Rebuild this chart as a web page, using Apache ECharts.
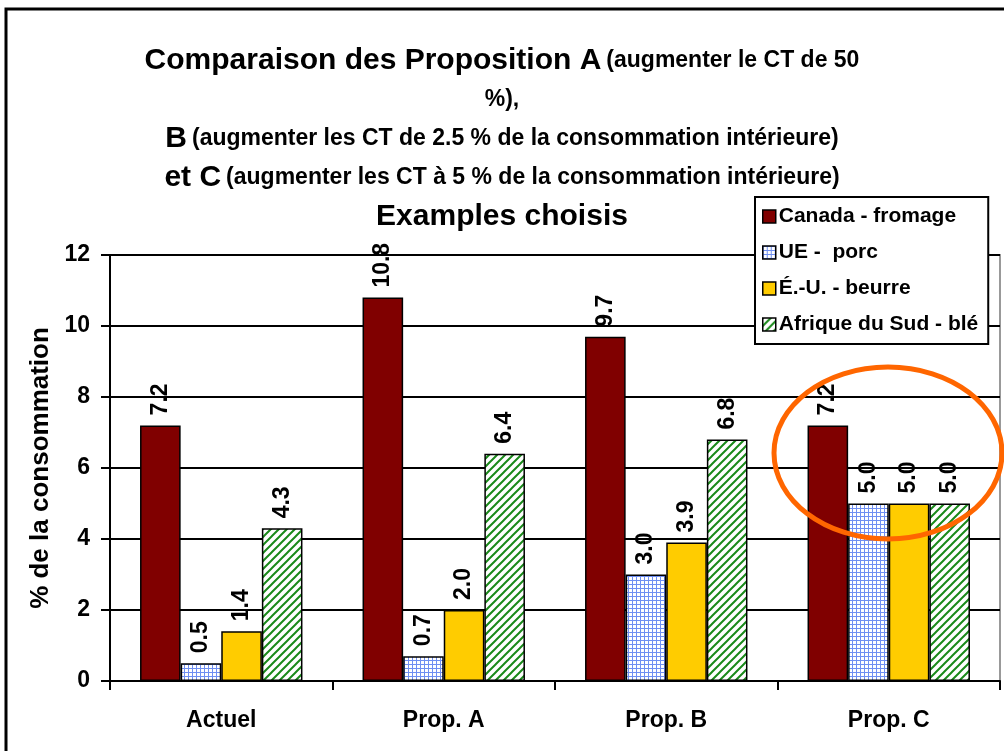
<!DOCTYPE html>
<html>
<head>
<meta charset="utf-8">
<script src="https://cdn.jsdelivr.net/npm/echarts@6/dist/echarts.min.js"></script>
<style>
  html, body { margin: 0; padding: 0; background: #fff; }
  #chart { width: 1004px; height: 751px; }
</style>
</head>
<body>
<div id="chart"></div>
<script>
// donnees du graphique
var categories = ['Actuel', 'Prop. A', 'Prop. B', 'Prop. C'];
var seriesNames = ['Canada - fromage', 'UE -  porc', 'É.-U. - beurre', 'Afrique du Sud - blé'];
var canadaFromage = [7.2, 10.8, 9.7, 7.2];
var uePorc = [0.5, 0.7, 3.0, 5.0];
var euBeurre = [1.4, 2.0, 3.9, 5.0];
var afriqueBle = [4.3, 6.4, 6.8, 5.0];
var yTicks = [0, 2, 4, 6, 8, 10, 12];

var FONT = 'Liberation Sans, Arial, sans-serif';

// motif quadrillage bleu (UE)
function gridPattern() {
  var c = document.createElement('canvas');
  c.width = 4; c.height = 4;
  var ctx = c.getContext('2d');
  ctx.fillStyle = '#fff';
  ctx.fillRect(0, 0, 4, 4);
  ctx.fillStyle = '#6f8ff2';
  ctx.fillRect(0, 0, 4, 1);
  ctx.fillRect(0, 0, 1, 4);
  return c;
}
// motif hachures vertes (Afrique du Sud)
function hatchPattern() {
  var c = document.createElement('canvas');
  c.width = 8; c.height = 8;
  var ctx = c.getContext('2d');
  ctx.fillStyle = '#fff';
  ctx.fillRect(0, 0, 8, 8);
  ctx.strokeStyle = '#1a8a1a';
  ctx.lineWidth = 2;
  ctx.beginPath();
  ctx.moveTo(-2, 10); ctx.lineTo(10, -2);
  ctx.moveTo(-6, 6); ctx.lineTo(6, -6);
  ctx.moveTo(2, 14); ctx.lineTo(14, 2);
  ctx.stroke();
  return c;
}

var colors = [
  '#800000',
  { image: gridPattern(), repeat: 'repeat' },
  '#FFCC00',
  { image: hatchPattern(), repeat: 'repeat' }
];
var dataSets = [canadaFromage, uePorc, euBeurre, afriqueBle];

var series = [];
for (var i = 0; i < dataSets.length; i++) {
  series.push({
    name: seriesNames[i],
    type: 'bar',
    data: dataSets[i],
    barGap: '0%',
    barCategoryGap: '27%',
    itemStyle: { color: colors[i], borderColor: '#000', borderWidth: 1.5 },
    label: {
      show: true,
      position: 'top',
      rotate: 90,
      align: 'left',
      verticalAlign: 'middle',
      distance: 10,
      fontFamily: FONT,
      fontWeight: 'bold',
      fontSize: 23,
      color: '#000',
      formatter: function (p) { return p.value.toFixed(1); }
    }
  });
}

var chart = echarts.init(document.getElementById('chart'));
chart.setOption({
  animation: false,
  backgroundColor: '#fff',
  title: {
    left: 497,
    top: 36,
    textAlign: 'center',
    text: '{b|Comparaison des Proposition A} {s|(augmenter le CT de 50}\n{s|%),}\n{b|B} {s|(augmenter les CT de 2.5 % de la consommation intérieure)}\n{b|et C} {s|(augmenter les CT à 5 % de la consommation intérieure)}\n{t|Examples choisis}',
    textStyle: {
      fontFamily: FONT,
      lineHeight: 39,
      rich: {
        b: { fontFamily: FONT, fontWeight: 'bold', fontSize: 30, lineHeight: 39, color: '#000' },
        s: { fontFamily: FONT, fontWeight: 'bold', fontSize: 23, lineHeight: 39, color: '#000' },
        t: { fontFamily: FONT, fontWeight: 'bold', fontSize: 30, lineHeight: 39, color: '#000' }
      }
    }
  },
  legend: {
    orient: 'vertical',
    left: 755,
    top: 197,
    padding: [9, 10, 9, 7],
    itemGap: 15,
    itemWidth: 13,
    itemHeight: 13,
    borderColor: '#000',
    borderWidth: 2,
    backgroundColor: '#fff',
    z: 10,
    textStyle: { fontFamily: FONT, fontWeight: 'bold', fontSize: 21, lineHeight: 21, color: '#000', padding: [0, 0, 0, -2] },
    itemStyle: { borderColor: '#000', borderWidth: 1.5 },
    data: seriesNames.map(function (n) { return { name: n, icon: 'rect' }; })
  },
  grid: { left: 110, right: 4, top: 255, bottom: 70, show: true, borderColor: '#999', borderWidth: 2 },
  xAxis: {
    type: 'category',
    data: categories,
    axisLine: { lineStyle: { color: '#000', width: 2 } },
    axisTick: { show: true, length: 9, lineStyle: { color: '#000', width: 2 } },
    axisLabel: { fontFamily: FONT, fontWeight: 'bold', fontSize: 23, color: '#000', margin: 28 }
  },
  yAxis: {
    type: 'value',
    min: yTicks[0],
    max: yTicks[yTicks.length - 1],
    interval: 2,
    name: '% de la consommation',
    nameLocation: 'middle',
    nameGap: 53,
    nameTextStyle: { fontFamily: FONT, fontWeight: 'bold', fontSize: 26, color: '#000' },
    axisLine: { show: true, lineStyle: { color: '#000', width: 2 } },
    axisTick: { show: true, length: 9, lineStyle: { color: '#000', width: 2 } },
    splitLine: { lineStyle: { color: '#000', width: 2 } },
    axisLabel: { fontFamily: FONT, fontWeight: 'bold', fontSize: 23, color: '#000', margin: 20 }
  },
  series: series,
  graphic: [
    {
      type: 'rect',
      shape: { x: 6, y: 9, width: 1010, height: 760 },
      style: { fill: null, stroke: '#000', lineWidth: 3 },
      z: 100
    },
    {
      type: 'ellipse',
      shape: { cx: 888, cy: 453, rx: 114, ry: 86 },
      style: { fill: null, stroke: '#FF6600', lineWidth: 5 },
      z: 100
    }
  ]
});
</script>
</body>
</html>
